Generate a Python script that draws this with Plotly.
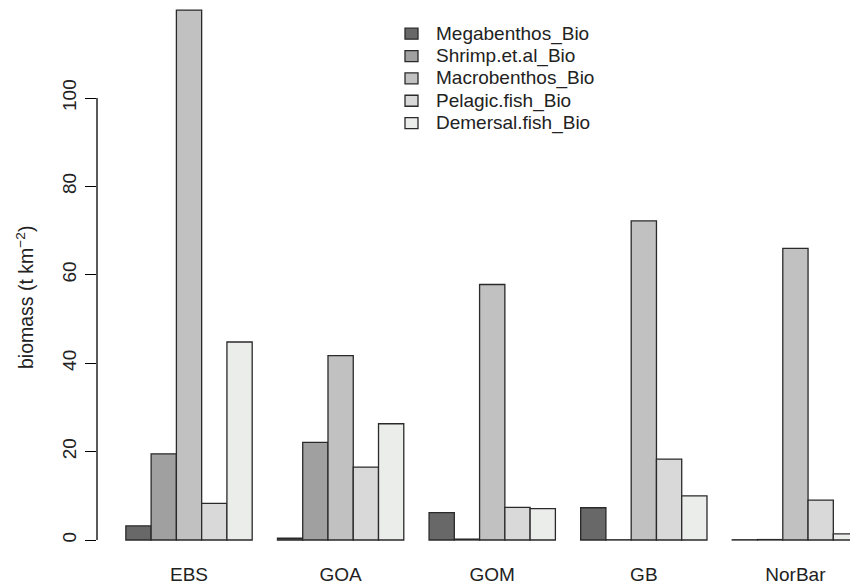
import plotly.graph_objects as go

regions = ["EBS", "GOA", "GOM", "GB", "NorBar"]
series = ["Megabenthos_Bio", "Shrimp.et.al_Bio", "Macrobenthos_Bio",
          "Pelagic.fish_Bio", "Demersal.fish_Bio"]
megabenthos = [3.2, 0.4, 6.2, 7.3, 0.05]
shrimp = [19.5, 22.1, 0.2, 0.05, 0.1]
macrobenthos = [119.9, 41.7, 57.8, 72.2, 66.0]
pelagic = [8.3, 16.5, 7.4, 18.3, 9.0]
demersal = [44.8, 26.3, 7.1, 10.0, 1.4]
yticks = [0, 20, 40, 60, 80, 100]
colors = ["#686868", "#A0A0A0", "#C0C1C0", "#D9D9D9", "#EBEDEB"]

values = [megabenthos, shrimp, macrobenthos, pelagic, demersal]
FONT = "Liberation Sans, Arial, Helvetica, sans-serif"
FS = 19

fig = go.Figure()
for name, vals, col in zip(series, values, colors):
    fig.add_trace(go.Bar(
        x=regions, y=vals, name=name, showlegend=False,
        marker=dict(color=col, line=dict(color="#2a2a2a", width=1.3)),
    ))

W, H = 850, 585
L, R, T, B = 97, 0, 5, 38
pw, ph = W - L - R, H - T - B
PPU = 4.42      # pixels per unit on y
Y0 = 540        # pixel row of y = 0


def px(x):
    return (x - L) / pw


def py(y):
    return (H - B - y) / ph


shapes = [dict(type="line", xref="paper", yref="y", x0=0, x1=0, y0=0, y1=100,
               line=dict(color="black", width=1.3))]
annotations = [dict(text="biomass (t km<sup>−2</sup>)", xref="paper", yref="paper",
                    x=0, y=py(298), xshift=-72, xanchor="center", yanchor="middle",
                    textangle=-90, showarrow=False,
                    font=dict(family=FONT, size=FS + 0.5, color="#222"))]

row0, dy = 33.7, 22.35
for i, (name, col) in enumerate(zip(series, colors)):
    cy = row0 + i * dy
    shapes.append(dict(type="rect", xref="paper", yref="paper",
                       x0=px(405), x1=px(418), y0=py(cy + 5.5), y1=py(cy - 5.5),
                       fillcolor=col, line=dict(color="#2a2a2a", width=1.3)))
    annotations.append(dict(text=name, xref="paper", yref="paper",
                            x=px(434), y=py(cy), xanchor="left", yanchor="middle",
                            showarrow=False,
                            font=dict(family=FONT, size=FS, color="#222")))

fig.update_layout(
    width=W, height=H, autosize=False,
    margin=dict(l=L, r=R, t=T, b=B, pad=0, autoexpand=False),
    paper_bgcolor="white", plot_bgcolor="white",
    barmode="group", bargap=1 / 6, bargroupgap=0,
    font=dict(family=FONT, size=FS, color="#222"),
    xaxis=dict(range=[-0.607, 4.36], showgrid=False, showline=False, zeroline=False,
               automargin=False,
               ticks="outside", ticklen=10, tickcolor="rgba(0,0,0,0)",
               tickfont=dict(family=FONT, size=FS, color="#222")),
    yaxis=dict(range=[-(H - B - Y0) / PPU, (Y0 - T) / PPU], showgrid=False,
               showline=False, zeroline=False, automargin=False,
               tickvals=yticks, ticktext=[str(v) for v in yticks],
               ticks="outside", ticklen=11, tickwidth=1.3, tickcolor="black",
               tickangle=-90, ticklabelstandoff=1,
               tickfont=dict(family=FONT, size=FS, color="#222")),
    shapes=shapes, annotations=annotations,
)

fig.write_html("out.html")
